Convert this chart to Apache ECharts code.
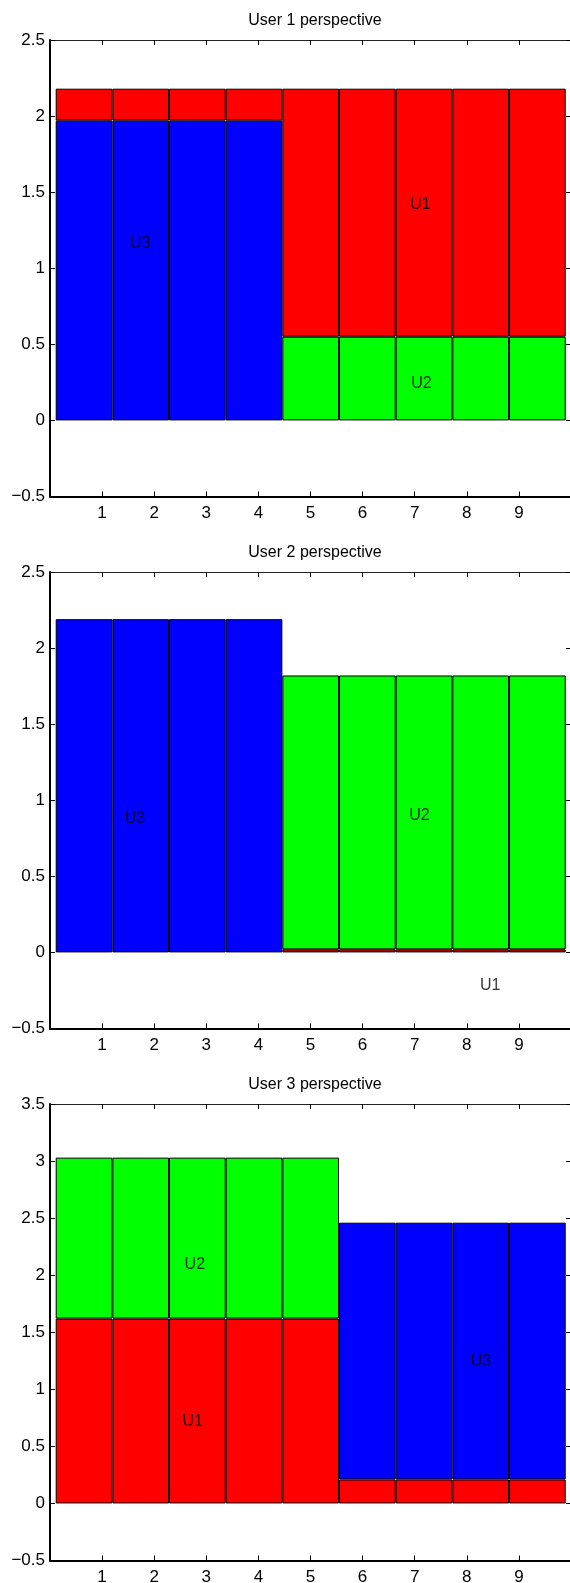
<!DOCTYPE html>
<html lang="en">
<head>
  <meta charset="UTF-8">
  <title>User perspectives</title>
  <style>
    * { margin: 0; padding: 0; }
    body { background: #fff; }
  </style>
  <script src="https://cdn.jsdelivr.net/npm/echarts@6/dist/echarts.min.js"></script>
</head>
<body>
  <div id="main" style="width: 570px; height: 1583px;"></div>
  <script>
    const chart = echarts.init(document.getElementById('main'))

    // bar slots (9 adjacent bars per panel)
    const bars = ['1', '2', '3', '4', '5', '6', '7', '8', '9']
    const titles = ['User 1 perspective', 'User 2 perspective', 'User 3 perspective']
    const yRanges = [[-0.5, 2.5], [-0.5, 2.5], [-0.5, 3.5]]

    // panel 1 - stacked bottom to top
    const p1U3 = [1.97, 1.97, 1.97, 1.97, null, null, null, null, null]
    const p1U2 = [null, null, null, null, 0.55, 0.55, 0.55, 0.55, 0.55]
    const p1U1 = [0.21, 0.21, 0.21, 0.21, 1.63, 1.63, 1.63, 1.63, 1.63]
    // panel 2
    const p2U1 = [null, null, null, null, 0.02, 0.02, 0.02, 0.02, 0.02]
    const p2U2 = [null, null, null, null, 1.80, 1.80, 1.80, 1.80, 1.80]
    const p2U3 = [2.19, 2.19, 2.19, 2.19, null, null, null, null, null]
    // panel 3
    const p3U1 = [1.62, 1.62, 1.62, 1.62, 1.62, 0.21, 0.21, 0.21, 0.21]
    const p3U2 = [1.41, 1.41, 1.41, 1.41, 1.41, null, null, null, null]
    const p3U3 = [null, null, null, null, null, 2.25, 2.25, 2.25, 2.25]

    // text annotations [x, y, text]
    const p1Text = [[1.73, 1.16, 'U3'], [7.11, 1.42, 'U1'], [7.13, 0.24, 'U2']]
    const p2Text = [[1.63, 0.88, 'U3'], [7.09, 0.90, 'U2'], [8.45, -0.22, 'U1']]
    const p3Text = [[2.78, 2.09, 'U2'], [2.74, 0.72, 'U1'], [8.27, 1.24, 'U3']]

    const colors = { U1: '#ff0000', U2: '#00ff00', U3: '#0000ff' }
    const panels = [
      { stack: [['U3', p1U3], ['U2', p1U2], ['U1', p1U1]], text: p1Text },
      { stack: [['U1', p2U1], ['U2', p2U2], ['U3', p2U3]], text: p2Text },
      { stack: [['U1', p3U1], ['U2', p3U2], ['U3', p3U3]], text: p3Text }
    ]

    const font = "'Liberation Sans', Helvetica, Arial, sans-serif"
    const tops = [40, 572, 1104]
    const H = 456.5

    const grid = [], xAxis = [], yAxis = [], series = [], title = []
    const minus = v => String(v).replace('-', '\u2212')

    panels.forEach((p, i) => {
      const [ymin, ymax] = yRanges[i]
      // axes grid runs past the right edge; bar grid is slightly inset
      grid.push({ left: 50, width: 521, top: tops[i], height: H, outerBoundsMode: 'none' })
      grid.push({ left: 55.7, width: 510, top: tops[i], height: H, outerBoundsMode: 'none' })
      const g = i * 2
      const tick = { show: true, inside: true, length: 5, lineStyle: { color: '#000', width: 1 } }

      xAxis.push({
        type: 'value', gridIndex: g, min: 0, max: 10, interval: 1, position: 'bottom',
        axisLine: { onZero: false, lineStyle: { color: '#000', width: 2 } },
        axisTick: tick, splitLine: { show: false },
        axisLabel: { color: '#000', fontSize: 17, fontFamily: font, margin: 8,
          formatter: v => (v > 0 && v < 10 ? String(v) : '') }
      })
      xAxis.push({
        type: 'value', gridIndex: g, min: 0, max: 10, interval: 1, position: 'top',
        axisLine: { onZero: false, lineStyle: { color: '#222', width: 1 } },
        axisTick: tick, splitLine: { show: false }, axisLabel: { show: false }
      })
      xAxis.push({ type: 'category', gridIndex: g + 1, data: bars, show: false, boundaryGap: true })

      yAxis.push({
        type: 'value', gridIndex: g, min: ymin, max: ymax, interval: 0.5, position: 'left',
        axisLine: { show: true, onZero: false, lineStyle: { color: '#000', width: 2 } },
        axisTick: tick, splitLine: { show: false },
        axisLabel: { color: '#000', fontSize: 17, fontFamily: font, margin: 5, formatter: minus }
      })
      yAxis.push({
        type: 'value', gridIndex: g, min: ymin, max: ymax, interval: 0.5, position: 'right',
        axisLine: { show: false, onZero: false },
        axisTick: tick, splitLine: { show: false }, axisLabel: { show: false }
      })
      yAxis.push({ type: 'value', gridIndex: g + 1, min: ymin, max: ymax, show: false })

      p.stack.forEach(([name, vals]) => {
        series.push({
          type: 'bar', name, stack: 'p' + i, data: vals,
          xAxisIndex: i * 3 + 2, yAxisIndex: i * 3 + 2,
          barWidth: '100%', barCategoryGap: 0, barGap: 0,
          itemStyle: { color: colors[name], borderColor: '#000', borderWidth: 1 },
          animation: false
        })
      })

      series.push({
        type: 'scatter', xAxisIndex: i * 3, yAxisIndex: i * 3,
        data: p.text, symbolSize: 1, itemStyle: { color: 'rgba(0,0,0,0)' },
        label: { show: true, position: 'inside', formatter: d => d.data[2],
          color: '#000', fontSize: 16, fontFamily: font },
        animation: false, z: 5
      })

      title.push({
        text: titles[i], left: 310, textAlign: 'center', top: tops[i] - 32,
        textStyle: { fontSize: 16, fontWeight: 'normal', color: '#000', fontFamily: font }
      })
    })

    chart.setOption({ backgroundColor: '#fff', animation: false, title, grid, xAxis, yAxis, series })
  </script>
</body>
</html>
